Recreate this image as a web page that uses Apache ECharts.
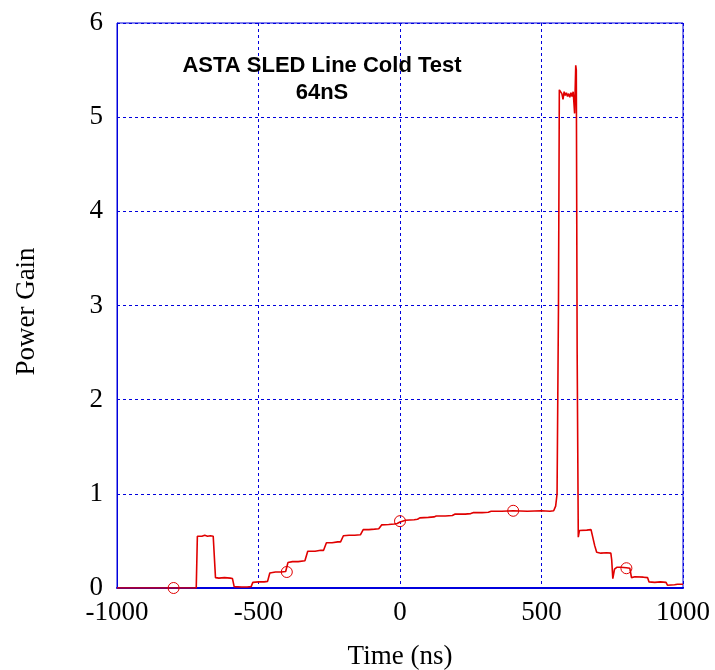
<!DOCTYPE html>
<html>
<head>
<meta charset="utf-8">
<script src="https://cdn.jsdelivr.net/npm/echarts@6/dist/echarts.min.js"></script>
<style>
html,body{margin:0;padding:0;background:#fff;}
#chart{width:715px;height:670px;}
</style>
</head>
<body>
<div id="chart"></div>
<script>
// Trace: time (ns) and power gain
const timeNs = [-1000,-900,-800,-720,-716,-710,-700,-690,-680,-670,-660,-656,-652,-640,-620,-600,-592,-586,-560,-540,-526,-520,-500,-480,-468,-460,-440,-420,-404,-396,-380,-360,-336,-326,-300,-280,-270,-260,-240,-220,-210,-200,-180,-160,-140,-130,-110,-90,-75,-65,-40,-20,-10,0,20,50,62,70,100,120,128,160,185,195,230,250,258,290,312,322,360,400,450,500,530,543,550,555,560,563,568,572,576,580,584,588,592,596,600,604,608,612,615,617,620,621,623,626,630,634,640,660,675,682,688,695,710,730,745,748,752,758,766,780,800,812,818,830,860,875,880,900,920,940,945,970,980,1000];
const powerGain = [0,0,0,0,0.55,0.56,0.55,0.56,0.55,0.555,0.55,0.55,0.11,0.105,0.11,0.105,0.10,0.015,0.01,0.01,0.015,0.06,0.065,0.065,0.07,0.16,0.17,0.17,0.175,0.27,0.28,0.28,0.29,0.39,0.39,0.40,0.40,0.48,0.48,0.49,0.49,0.555,0.56,0.56,0.565,0.62,0.62,0.625,0.63,0.67,0.675,0.68,0.685,0.70,0.72,0.725,0.73,0.745,0.75,0.755,0.765,0.765,0.77,0.785,0.785,0.79,0.80,0.80,0.805,0.815,0.815,0.82,0.815,0.82,0.815,0.82,0.87,1.0,3.0,5.29,5.31,5.25,5.19,5.27,5.23,5.26,5.22,5.25,5.21,5.26,5.22,5.27,5.25,5.04,5.04,5.55,5.50,2.5,0.54,0.61,0.62,0.615,0.62,0.60,0.45,0.38,0.37,0.375,0.37,0.30,0.10,0.20,0.22,0.22,0.215,0.21,0.11,0.12,0.115,0.11,0.065,0.06,0.065,0.06,0.03,0.035,0.04,0.04];
// Circle markers
const markerTime = [-800,-400,0,400,800];
const markerGain = [0,0.17,0.71,0.82,0.21];
// Axis ticks
const xTicks = [-1000,-500,0,500,1000];
const yTicks = [0,1,2,3,4,5,6];

const lineData = timeNs.map((t,i)=>[t,powerGain[i]]);
const markData = markerTime.map((t,i)=>[t,markerGain[i]]);

const serif = 'Liberation Serif, Times New Roman, serif';
const gridColor = '#0000dd';
const chart = echarts.init(document.getElementById('chart'));
chart.setOption({
  animation:false,
  backgroundColor:'#ffffff',
  title:{
    text:'ASTA SLED Line Cold Test\n64nS',
    left:317, top:47, textAlign:'center',
    textStyle:{fontFamily:'Liberation Sans, Arial, sans-serif',fontWeight:'bold',fontSize:22,lineHeight:27,color:'#000'}
  },
  grid:{left:117,right:32,top:23,bottom:82,containLabel:false,outerBoundsMode:'none',
        show:true,borderColor:gridColor,borderWidth:1,backgroundColor:'transparent'},
  xAxis:{
    type:'value',min:xTicks[0],max:xTicks[xTicks.length-1],interval:500,
    name:'Time (ns)',nameLocation:'middle',nameGap:55,
    nameTextStyle:{fontFamily:serif,fontSize:27,color:'#000'},
    axisLine:{show:true,onZero:false,lineStyle:{color:gridColor,width:2}},
    axisTick:{show:false},
    axisLabel:{fontFamily:serif,fontSize:27,color:'#000',margin:11,formatter:v=>String(v)},
    splitLine:{show:true,lineStyle:{color:gridColor,type:[3,3],width:1}}
  },
  yAxis:{
    type:'value',min:yTicks[0],max:yTicks[yTicks.length-1],interval:1,
    name:'Power Gain',nameLocation:'middle',nameGap:77,
    nameTextStyle:{fontFamily:serif,fontSize:27,color:'#000',padding:[0,12,0,0]},
    axisLine:{show:true,onZero:false,lineStyle:{color:gridColor,width:1}},
    axisTick:{show:false},
    axisLabel:{fontFamily:serif,fontSize:27,color:'#000',margin:14,formatter:v=>String(v)},
    splitLine:{show:true,lineStyle:{color:gridColor,type:[3,3],width:1}}
  },
  series:[
    {type:'line',data:lineData,showSymbol:false,symbol:'none',
     lineStyle:{color:'#e00000',width:1.6},z:3},
    {type:'scatter',data:markData,symbol:'circle',symbolSize:11,
     itemStyle:{color:'rgba(0,0,0,0)',borderColor:'#e00000',borderWidth:1,opacity:1},z:4}
  ]
});
</script>
</body>
</html>
